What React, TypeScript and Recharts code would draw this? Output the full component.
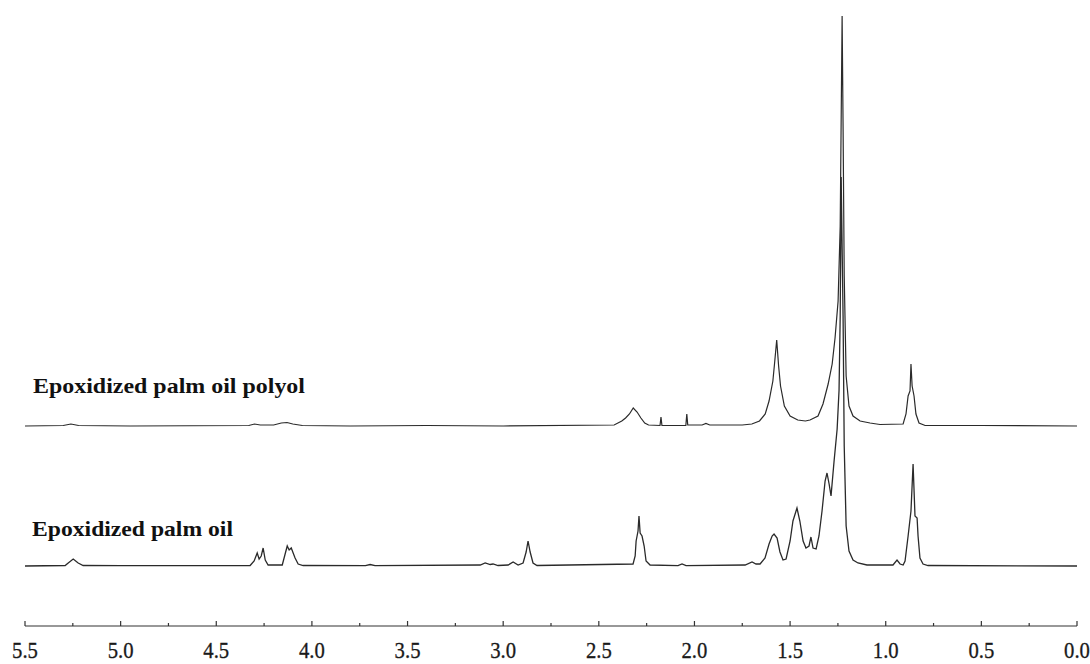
import React from 'react';
import { LineChart, Line, XAxis, YAxis } from 'recharts';

// chemical shift (ppm) and intensity for each trace
const polyolShift = [
  5.5, 5.3, 5.26, 5.22, 4.95, 4.33, 4.3, 4.27, 4.2, 4.16, 4.13, 4.1, 4.05, 3.8, 3.4, 3.0,
  2.42, 2.38, 2.36, 2.34, 2.32, 2.3, 2.28, 2.26, 2.24, 2.18, 2.175, 2.17, 2.045, 2.04, 2.035,
  1.96, 1.94, 1.92, 1.75, 1.7, 1.66, 1.63, 1.61, 1.59, 1.58, 1.57, 1.56, 1.55, 1.53, 1.5,
  1.46, 1.42, 1.396, 1.354, 1.328, 1.301, 1.28, 1.265, 1.249, 1.238, 1.228, 1.223, 1.217,
  1.207, 1.192, 1.171, 1.134, 1.082, 1.03, 0.909, 0.894, 0.883, 0.873, 0.868, 0.862, 0.852,
  0.842, 0.826, 0.794, 0.5, 0.0,
];
const polyolIntensity = [
  0, 0.5, 2, 0.5, 0, 0.5, 2, 1, 1, 3, 3.5, 2, 0.5, 0, 0.5, 0,
  1, 5, 8, 12, 18, 14, 8, 3, 1, 0.5, 9, 0.5, 0.5, 12, 1,
  1, 2.5, 1, 1, 2, 5, 12, 25, 45, 65, 86, 60, 40, 20, 10,
  6, 5, 6, 10, 22, 42, 62, 88, 125, 200, 410, 300, 150,
  50, 20, 10, 5, 3, 1.5, 2, 12, 30, 35, 62, 40, 30,
  12, 3, 0.5, 0.5, 0,
];

const oilShift = [
  5.5, 5.29, 5.274, 5.248, 5.222, 5.196, 5.0, 4.323, 4.302, 4.286, 4.276, 4.265, 4.255, 4.244,
  4.229, 4.155, 4.14, 4.129, 4.119, 4.108, 4.098, 4.088, 4.072, 4.046, 3.72, 3.696, 3.67,
  3.12, 3.094, 3.068, 3.053, 3.027, 2.974, 2.948, 2.922, 2.896, 2.88, 2.87, 2.859, 2.844, 2.823,
  2.321, 2.31, 2.305, 2.295, 2.29, 2.284, 2.274, 2.263, 2.253, 2.232, 2.086, 2.065, 2.044,
  1.735, 1.699, 1.678, 1.657, 1.631, 1.61, 1.594, 1.584, 1.568, 1.553, 1.537, 1.521, 1.5,
  1.485, 1.464, 1.449, 1.432, 1.417, 1.401, 1.391, 1.38, 1.364, 1.349, 1.333, 1.317, 1.307,
  1.296, 1.286, 1.27, 1.254, 1.244, 1.238, 1.233, 1.223, 1.217, 1.207, 1.192, 1.171, 1.145,
  1.098, 0.962, 0.941, 0.925, 0.909, 0.899, 0.883, 0.868, 0.857, 0.847, 0.836, 0.831, 0.821,
  0.805, 0.779, 0.0,
];
const oilIntensity = [
  0, 0.5, 3, 7, 3, 0.5, 0.3, 0.5, 5, 13, 7, 10, 18, 6,
  1, 1, 12, 20, 16, 18, 13, 8, 2, 0.5, 0.3, 1.5, 0.3,
  1, 3, 1.5, 2, 0.5, 1, 4, 1, 3, 14, 25, 14, 3, 0.5,
  2, 10, 25, 35, 50, 33, 30, 20, 5, 1, 0.3, 2, 0.3,
  1, 4, 2, 2, 8, 22, 30, 32, 28, 14, 6, 7, 25,
  45, 58, 45, 25, 18, 20, 29, 18, 17, 30, 55, 85, 93,
  82, 70, 105, 137, 176, 250, 389, 250, 120, 40, 15, 6, 3,
  1, 1, 6, 2, 1, 5, 30, 55, 102, 50, 48, 30, 8,
  2, 0.5, 0,
];

const shiftTicks = [
  5.5, 5.25, 5.0, 4.75, 4.5, 4.25, 4.0, 3.75, 3.5, 3.25, 3.0, 2.75, 2.5, 2.25, 2.0, 1.75,
  1.5, 1.25, 1.0, 0.75, 0.5, 0.25, 0.0,
];
const tickLabels = ['5.5', '5.0', '4.5', '4.0', '3.5', '3.0', '2.5', '2.0', '1.5', '1.0', '0.5', '0.0'];

const traceNames = ['Epoxidized palm oil polyol', 'Epoxidized palm oil'];

const W = 1090;
const H = 664;
const AXIS_H = 38;
const POLYOL_BASE = 200;
const OIL_BASE = 60;

const polyolData = polyolShift.map((ppm, i) => ({ ppm, y: POLYOL_BASE + polyolIntensity[i] }));
const oilData = oilShift.map((ppm, i) => ({ ppm, y: OIL_BASE + oilIntensity[i] }));

const serif = '"Liberation Serif", "Times New Roman", serif';

function ShiftTick(props: any) {
  const { x, y, payload } = props;
  const v: number = payload.value;
  const label = tickLabels.find((t) => Math.abs(parseFloat(t) - v) < 1e-6);
  return (
    <g>
      <line x1={x} y1={y} x2={x} y2={y - (label ? 5 : 3)} stroke="#333" strokeWidth={1.2} />
      {label && (
        <text
          x={x}
          y={y + 32}
          textAnchor="middle"
          fontFamily={serif}
          fontSize={23}
          fill="#1a1a1a"
          stroke="#1a1a1a"
          strokeWidth={0.3}
          transform={`translate(${x} 0) scale(0.9 1) translate(${-x} 0)`}
        >
          {label}
        </text>
      )}
    </g>
  );
}

export default function App() {
  return (
    <div style={{ position: 'absolute', left: 0, top: 0, width: W, height: H, background: '#fff' }}>
      <LineChart width={W} height={H} margin={{ top: 0, right: 13, bottom: 0, left: 25 }}>
        <XAxis
          type="number"
          dataKey="ppm"
          domain={[0, 5.5]}
          reversed
          allowDataOverflow
          ticks={shiftTicks}
          interval={0}
          tickSize={0}
          tickMargin={0}
          tickLine={false}
          height={AXIS_H}
          stroke="#333"
          strokeWidth={1.2}
          tick={<ShiftTick />}
        />
        <YAxis type="number" domain={[0, H - AXIS_H]} hide allowDataOverflow />
        <Line
          data={polyolData}
          dataKey="y"
          type="linear"
          stroke="#2a2a2a"
          strokeWidth={1.2}
          dot={false}
          isAnimationActive={false}
        />
        <Line
          data={oilData}
          dataKey="y"
          type="linear"
          stroke="#2a2a2a"
          strokeWidth={1.3}
          dot={false}
          isAnimationActive={false}
        />
      </LineChart>
      <svg width={W} height={H} style={{ position: 'absolute', left: 0, top: 0, pointerEvents: 'none' }}>
        <text
          x={33}
          y={393}
          fontFamily={serif}
          fontWeight="bold"
          fontSize={22}
          fill="#111"
          textLength={272}
          lengthAdjust="spacingAndGlyphs"
        >
          {traceNames[0]}
        </text>
        <text
          x={32}
          y={536}
          fontFamily={serif}
          fontWeight="bold"
          fontSize={22}
          fill="#111"
          textLength={201}
          lengthAdjust="spacingAndGlyphs"
        >
          {traceNames[1]}
        </text>
      </svg>
    </div>
  );
}
